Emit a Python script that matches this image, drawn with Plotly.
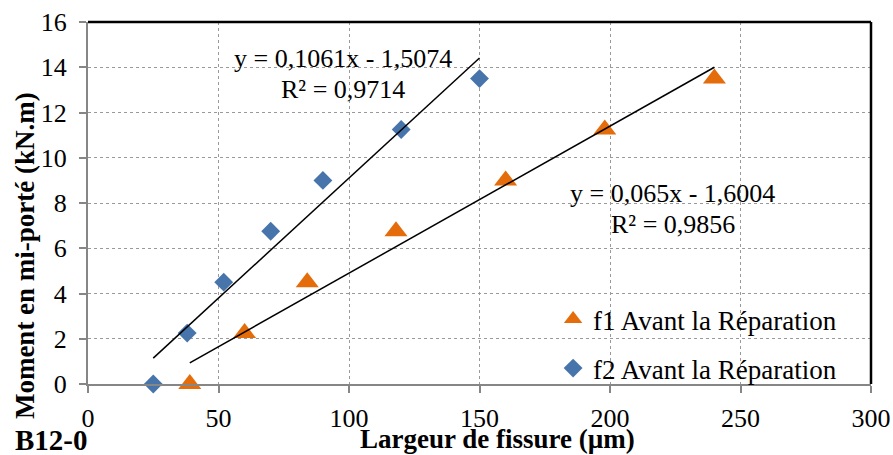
import plotly.graph_objects as go

# Data
f1_x = [39, 60, 84, 118, 160, 198, 240]
f1_y = [0, 2.25, 4.5, 6.75, 9, 11.25, 13.5]
f2_x = [25, 38, 52, 70, 90, 120, 150]
f2_y = [0, 2.25, 4.5, 6.75, 9, 11.25, 13.5]

f1_slope, f1_intercept, f1_r2 = 0.065, -1.6004, 0.9856
f2_slope, f2_intercept, f2_r2 = 0.1061, -1.5074, 0.9714

x_ticks = [0, 50, 100, 150, 200, 250, 300]
y_ticks = [0, 2, 4, 6, 8, 10, 12, 14, 16]

FONT = "Liberation Serif"
ORANGE = "#E46C0A"
BLUE = "#4674AB"


def fr(v):
    return str(v).replace(".", ",")


def eq_text(slope, intercept):
    sign = "-" if intercept < 0 else "+"
    return f"y = {fr(slope)}x {sign} {fr(abs(intercept))}"


fig = go.Figure()

fig.add_trace(go.Scatter(
    x=f1_x, y=f1_y, mode="markers", name="f1 Avant la Réparation",
    marker=dict(symbol="triangle-up", size=20, color=ORANGE),
    legendgroup="f1", cliponaxis=False,
))
fig.add_trace(go.Scatter(
    x=f2_x, y=f2_y, mode="markers", name="f2 Avant la Réparation",
    marker=dict(symbol="diamond", size=14.5, color=BLUE),
    legendgroup="f2", cliponaxis=False,
))

# linear trendlines
for xs, s, b in [(f2_x, f2_slope, f2_intercept), (f1_x, f1_slope, f1_intercept)]:
    x0, x1 = min(xs), max(xs)
    fig.add_trace(go.Scatter(
        x=[x0, x1], y=[s * x0 + b, s * x1 + b], mode="lines",
        line=dict(color="black", width=1.5), showlegend=False, hoverinfo="skip",
    ))

annotations = [
    dict(x=97.7, y=14.4, text=eq_text(f2_slope, f2_intercept)),
    dict(x=97.7, y=13.0, text=f"R² = {fr(f2_r2)}"),
    dict(x=224.1, y=8.44, text=eq_text(f1_slope, f1_intercept)),
    dict(x=224.1, y=7.03, text=f"R² = {fr(f1_r2)}"),
]
for a in annotations:
    a.update(xref="x", yref="y", showarrow=False, xanchor="center", yanchor="middle",
             font=dict(family=FONT, size=26, color="black"))

annotations += [
    dict(xref="paper", yref="paper", x=-0.0805, y=0.356, text="<b>Moment en mi-porté (kN.m)</b>",
         textangle=-90, showarrow=False, xanchor="center", yanchor="middle",
         font=dict(family=FONT, size=27, color="black")),
    dict(xref="paper", yref="paper", x=0.5236, y=-0.153, text="<b>Largeur de fissure (µm)</b>",
         showarrow=False, xanchor="center", yanchor="middle",
         font=dict(family=FONT, size=27, color="black")),
    dict(xref="paper", yref="paper", x=-0.047, y=-0.156, text="<b>B12-0</b>",
         showarrow=False, xanchor="center", yanchor="middle",
         font=dict(family=FONT, size=29, color="black")),
]

fig.update_layout(
    width=893, height=455,
    margin=dict(l=88, r=22, t=22, b=71, autoexpand=False),
    paper_bgcolor="white", plot_bgcolor="white",
    font=dict(family=FONT, size=26, color="black"),
    showlegend=True,
    legend=dict(x=0.594, y=0.246, xanchor="left", yanchor="top",
                bgcolor="rgba(0,0,0,0)", traceorder="grouped", tracegroupgap=11,
                font=dict(family=FONT, size=27, color="black")),
    annotations=annotations,
    shapes=[
        dict(type="line", xref="paper", yref="paper", x0=0, x1=1, y0=1, y1=1,
             line=dict(color="black", width=2.5), layer="above"),
        dict(type="line", xref="paper", yref="paper", x0=1, x1=1, y0=0, y1=1,
             line=dict(color="black", width=2.5), layer="above"),
    ],
)

fig.update_xaxes(
    range=[0, 300], tickvals=x_ticks, ticktext=[str(v) for v in x_ticks],
    showgrid=True, gridcolor="#9a9a9a", gridwidth=1, griddash="dot",
    showline=True, linecolor="#868686", linewidth=2,
    ticks="outside", ticklen=7, tickwidth=2, tickcolor="#868686",
    ticklabelstandoff=3, automargin=False,
    zeroline=False, tickfont=dict(family=FONT, size=26, color="black"),
)
fig.update_yaxes(
    range=[0, 16], tickvals=y_ticks, ticktext=[str(v) for v in y_ticks],
    showgrid=True, gridcolor="#9a9a9a", gridwidth=1, griddash="dot",
    showline=True, linecolor="#868686", linewidth=2,
    ticks="outside", ticklen=7, tickwidth=2, tickcolor="#868686",
    ticklabelstandoff=7, automargin=False,
    zeroline=False, tickfont=dict(family=FONT, size=26, color="black"),
)

fig.write_html("out.html", config={"displayModeBar": False},
               post_script="document.body.style.margin='0';")
